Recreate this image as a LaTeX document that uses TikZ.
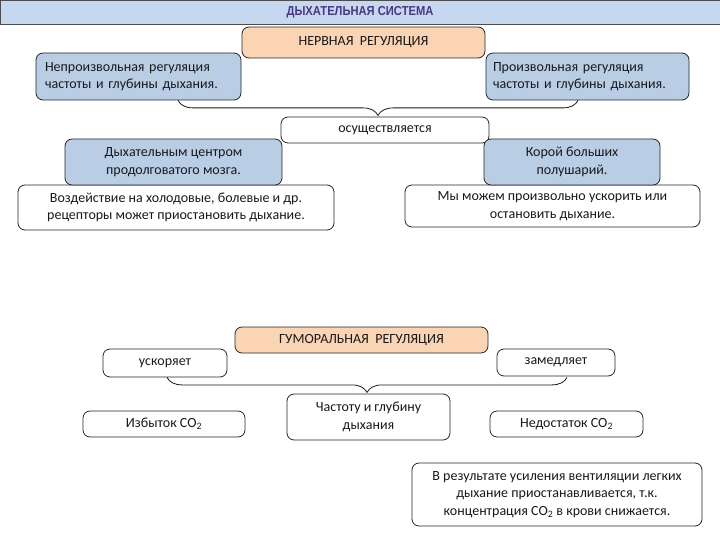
\documentclass[tikz,border=0pt]{standalone}
\usepackage{fontspec}
\setmainfont{Carlito}
\newfontfamily\headfont[FakeStretch=0.86]{Liberation Sans}
\usetikzlibrary{calc}
\usetikzlibrary{decorations.pathreplacing}

\definecolor{bandblue}{RGB}{198,216,240}
\definecolor{boxblue}{RGB}{185,205,229}
\definecolor{boxpeach}{RGB}{251,212,180}
\definecolor{titlepurple}{RGB}{72,56,130}

\begin{document}
\begin{tikzpicture}[x = 1pt, y = -1pt]

\tikzstyle{box_W}=[rectangle, draw=black!85, fill=white, rounded corners=7pt, line width=0.8pt, align=center, inner sep=2pt, text=black!90, font=\fontsize{14}{17.5}\selectfont]
\tikzstyle{box_B}=[box_W, fill=boxblue]
\tikzstyle{box_P}=[box_W, fill=boxpeach]
\tikzstyle{brace_line}=[decorate, decoration={brace, mirror, amplitude=15pt}, line width=0.8pt, color=black!90]

\useasboundingbox (0, 0) rectangle (720, 540);

% title band
\path
(0, 0) node[anchor=north west, rectangle, draw=black!70, fill=bandblue, minimum width=720pt, minimum height=24pt, inner sep=0pt] (band) {}
(360, 12) node[text=titlepurple, font=\headfont\bfseries\fontsize{13}{15}\selectfont] (title) {ДЫХАТЕЛЬНАЯ СИСТЕМА};

% nervous regulation
\path
(363.5, 42.5) node[box_P, minimum width=243pt, minimum height=31pt] (nerv) {НЕРВНАЯ\ \ РЕГУЛЯЦИЯ}
(138.5, 76.5) node[box_B, minimum width=205pt, minimum height=47pt, align=left, inner xsep=9pt, text width=187pt] (invol) {Непроизвольная регуляция\\частоты и глубины дыхания.}
(587.5, 76.5) node[box_B, minimum width=203pt, minimum height=47pt, align=left, inner xsep=7pt, text width=189pt] (vol) {Произвольная регуляция\\частоты и глубины дыхания.}
(385, 130) node[box_W, minimum width=208pt, minimum height=26pt] (done) {осуществляется}
(176, 207.5) node[box_W, minimum width=316pt, minimum height=45pt] (reflex) {Воздействие на холодовые, болевые и др.\\рецепторы может приостановить дыхание.}
(552.5, 206) node[box_W, minimum width=295pt, minimum height=42pt] (will) {Мы можем произвольно ускорить или\\остановить дыхание.}
(173.5, 162) node[box_B, minimum width=217pt, minimum height=46pt] (medulla) {Дыхательным центром\\продолговатого мозга.}
(572, 162) node[box_B, minimum width=176pt, minimum height=46pt] (cortex) {Корой больших\\полушарий.};

% humoral regulation
\path
(361.5, 340) node[box_P, minimum width=253pt, minimum height=26pt] (humor) {ГУМОРАЛЬНАЯ\ \ РЕГУЛЯЦИЯ}
(165, 363) node[box_W, minimum width=124pt, minimum height=28pt] (fast) {ускоряет}
(556, 362.5) node[box_W, minimum width=118pt, minimum height=27pt] (slow) {замедляет}
(368.5, 417) node[box_W, minimum width=163pt, minimum height=46pt] (rate) {Частоту и глубину\\дыхания}
(164, 424) node[box_W, minimum width=162pt, minimum height=26pt] (excess) {Избыток CO\textsubscript{2}}
(566.5, 424) node[box_W, minimum width=153pt, minimum height=26pt] (lack) {Недостаток CO\textsubscript{2}}
(557, 494.5) node[box_W, minimum width=290pt, minimum height=63pt] (result) {В результате усиления вентиляции легких\\дыхание приостанавливается, т.к.\\концентрация CO\textsubscript{2} в крови снижается.};

%braces
\draw[brace_line] ([xshift=39.5pt]invol.south) to ([xshift=-9.5pt]vol.south);
\draw[brace_line] ([xshift=2pt]fast.south) to ([xshift=11pt]slow.south |- fast.south);

\end{tikzpicture}
\end{document}
